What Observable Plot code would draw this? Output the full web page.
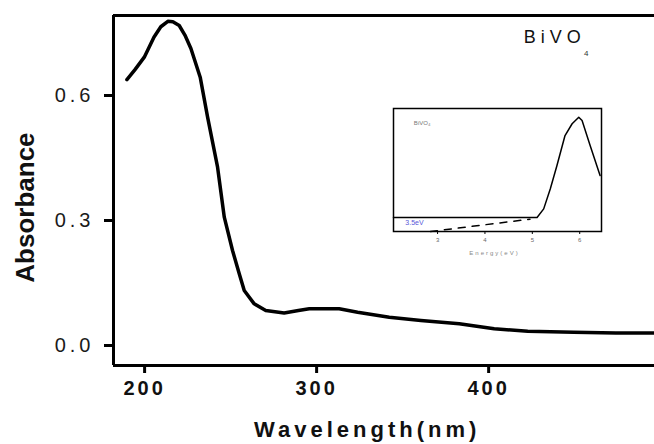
<!DOCTYPE html>
<html>
<head>
<meta charset="utf-8">
<script src="https://cdn.jsdelivr.net/npm/d3@7"></script>
<script src="https://cdn.jsdelivr.net/npm/@observablehq/plot@0.6"></script>
<style>
  html, body { margin: 0; padding: 0; background: #fff; overflow: hidden; }
  #wrap { position: relative; width: 654px; height: 444px; font-family: "Liberation Sans", Arial, sans-serif; }
  #wrap svg { position: absolute; overflow: visible; }
  #main g[aria-label="y-axis tick label"] text { letter-spacing: 4px; }
  #main g[aria-label="x-axis tick label"] text { letter-spacing: 3px; }
  #main .xlab text { letter-spacing: 4px; }
  #main .tag text { letter-spacing: 5px; }
  #inset g[aria-label="x-axis tick label"] text { fill: #666; }
  #inset .elab text { letter-spacing: 2px; }
</style>
</head>
<body>
<div id="wrap"></div>
<script>
// Main spectrum: wavelength (nm) vs absorbance
const wavelength = [190.3, 195, 200.4, 206, 210, 214.1, 217, 220.7, 224, 227.5, 232.9, 237.2, 243, 246.9, 251.7, 255.6, 258.5, 264.3, 271, 281.7, 290, 296.3, 313.7, 324.4, 342.8, 361.2, 383.5, 403.8, 423.3, 450, 474.6, 497];
const absorbance = [0.638, 0.662, 0.692, 0.74, 0.765, 0.778, 0.777, 0.768, 0.745, 0.713, 0.644, 0.548, 0.428, 0.308, 0.228, 0.172, 0.132, 0.100, 0.084, 0.078, 0.084, 0.088, 0.088, 0.080, 0.068, 0.060, 0.052, 0.040, 0.034, 0.032, 0.030, 0.030];
const yTicks = [0, 0.3, 0.6];
const xTicks = [200, 300, 400];

// Inset: energy (eV) vs relative absorbance
const insetEnergy = [2.07, 5.10, 5.24, 5.38, 5.52, 5.69, 5.84, 5.98, 6.05, 6.22, 6.43];
const insetValue = [0.114, 0.114, 0.184, 0.347, 0.537, 0.78, 0.876, 0.929, 0.902, 0.699, 0.455];
const edgeEnergy = [2.85, 4.95];
const edgeValue = [0.0, 0.10];
const insetTicks = [3, 4, 5, 6];

const mainTable = wavelength.map((w, i) => ({w, a: absorbance[i]}));
const insetTable = insetEnergy.map((e, i) => ({e, v: insetValue[i]}));
const edgeTable = edgeEnergy.map((e, i) => ({e, v: edgeValue[i]}));

const xDom = [182.5, 497];
const yDom = [-0.048, 0.792];

const main = Plot.plot({
  width: 654, height: 444,
  marginLeft: 113, marginRight: 0, marginTop: 15, marginBottom: 79,
  style: {fontFamily: "Liberation Sans, Arial, sans-serif", color: "#000", background: "transparent"},
  x: {domain: xDom},
  y: {domain: yDom},
  marks: [
    Plot.ruleX([xDom[0]], {stroke: "#000", strokeWidth: 3}),
    Plot.ruleY([yDom[0]], {stroke: "#000", strokeWidth: 3}),
    Plot.ruleY([yDom[1]], {stroke: "#000", strokeWidth: 3}),
    Plot.axisY(yTicks, {tickSize: 9, tickPadding: 10, strokeWidth: 3, fontSize: 20, tickFormat: d => d.toFixed(1), label: null, fill: "#1a1a1a"}),
    Plot.axisX(xTicks, {tickSize: 8, tickPadding: 7, strokeWidth: 3, fontSize: 20, fontWeight: "bold", label: null, fill: "#111", dx: 1}),
    Plot.line(mainTable, {x: "w", y: "a", stroke: "#000", strokeWidth: 3.5, curve: "linear"}),
    Plot.text(["Absorbance"], {x: 131.2, y: 0.331, rotate: -90, fontSize: 26, fontWeight: "bold", fill: "#111"}),
    Plot.text(["Wavelength(nm)"], {x: 330, y: yDom[0], dy: 64, fontSize: 22, fontWeight: "bold", fill: "#111", className: "xlab"}),
    Plot.text(["BiVO"], {x: 421, y: 0.739, textAnchor: "start", fontSize: 18, fill: "#111", className: "tag"}),
    Plot.text(["4"], {x: 456, y: 0.702, textAnchor: "start", fontSize: 8, fill: "#333"})
  ]
});
main.id = "main";
main.style.left = "0px"; main.style.top = "0px";

const inset = Plot.plot({
  width: 210, height: 154,
  marginLeft: 1, marginRight: 1, marginTop: 1, marginBottom: 30,
  style: {fontFamily: "Liberation Sans, Arial, sans-serif", color: "#000", background: "transparent"},
  x: {domain: [2.07, 6.46]},
  y: {domain: [0, 1], axis: null},
  marks: [
    Plot.frame({stroke: "#000", strokeWidth: 1.5}),
    Plot.axisX(insetTicks, {tickSize: 3, tickPadding: 3, fontSize: 6, label: null, stroke: "#000", strokeWidth: 1}),
    Plot.line(insetTable, {x: "e", y: "v", stroke: "#000", strokeWidth: 1.5}),
    Plot.line(edgeTable, {x: "e", y: "v", stroke: "#000", strokeWidth: 1.5, strokeDasharray: "7,7"}),
    Plot.text(["3.5eV"], {x: 2.32, y: 0.07, textAnchor: "start", fontSize: 7, fill: "#5a5ad8"}),
    Plot.text(["BiVO₄"], {x: 2.5, y: 0.88, textAnchor: "start", fontSize: 6, fill: "#777"}),
    Plot.text(["Energy(eV)"], {frameAnchor: "bottom", dx: -3, dy: 23, fontSize: 6, fill: "#888", className: "elab"})
  ]
});
inset.id = "inset";
inset.style.left = "392px"; inset.style.top = "107px";

const wrap = document.getElementById("wrap");
wrap.appendChild(main);
wrap.appendChild(inset);
</script>
</body>
</html>
